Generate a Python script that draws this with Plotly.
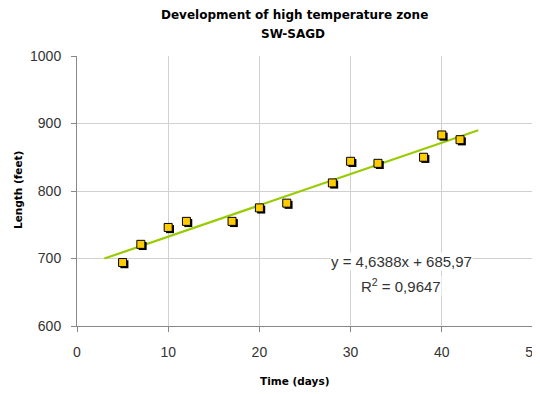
import plotly.graph_objects as go

days = [5, 7, 10, 12, 17, 20, 23, 28, 30, 33, 38, 40, 42]
length_ft = [694, 721, 746, 755, 755, 775, 782, 812, 844, 841, 850, 883, 876]
slope = 4.6388
intercept = 685.97
trend_x = [3, 44]
trend_y = [slope * x + intercept for x in trend_x]

# page body has an 8px margin; figure fills the rest of the 540x394 window
OFF = 8
W, H = 540 - OFF, 394 - OFF
L, R, T, B = 77 - OFF, 7, 56 - OFF, 68
PW, PH = W - L - R, H - T - B


def px(xp):
    return (xp - OFF - L) / PW


def py(yp):
    return (H - B - (yp - OFF)) / PH


fig = go.Figure()
fig.add_trace(go.Scatter(x=trend_x, y=trend_y, mode="lines",
                         line=dict(color="#99cc00", width=2.2), hoverinfo="skip"))
# shadow
fig.add_trace(go.Scatter(x=[d + 0.2 for d in days], y=[v - 2.5 for v in length_ft], mode="markers",
                         marker=dict(symbol="square", size=8, color="black"), hoverinfo="skip"))
fig.add_trace(go.Scatter(x=days, y=length_ft, mode="markers",
                         marker=dict(symbol="square", size=8, color="#ffcc00",
                                     line=dict(color="black", width=1))))

eq_font = dict(family="Liberation Sans", size=15, color="#333333")
fig.add_annotation(x=px(401), y=py(261), xref="paper", yref="paper", showarrow=False,
                   text="y = 4,6388x + 685,97", font=eq_font,
                   bgcolor="white", xanchor="center", yanchor="middle", borderpad=0)
fig.add_annotation(x=px(401), y=py(285), xref="paper", yref="paper", showarrow=False,
                   text="R<sup>2</sup> = 0,9647", font=eq_font,
                   bgcolor="white", xanchor="center", yanchor="middle", borderpad=0)

title_font = dict(family="DejaVu Sans", size=12, color="black")
fig.add_annotation(x=px(294), y=py(15), xref="paper", yref="paper", showarrow=False,
                   text="<b>Development of high temperature zone</b>", font=title_font,
                   xanchor="center", yanchor="middle")
fig.add_annotation(x=px(293), y=py(34), xref="paper", yref="paper", showarrow=False,
                   text="<b>SW-SAGD</b>", font=title_font,
                   xanchor="center", yanchor="middle")
axis_title_font = dict(family="DejaVu Sans", size=10.5, color="black")
fig.add_annotation(x=px(294), y=py(381), xref="paper", yref="paper", showarrow=False,
                   text="<b>Time (days)</b>", font=axis_title_font,
                   xanchor="center", yanchor="middle")
fig.add_annotation(x=px(18), y=py(190), xref="paper", yref="paper", showarrow=False,
                   text="<b>Length (feet)</b>", font=axis_title_font, textangle=-90,
                   xanchor="center", yanchor="middle")

tick_font = dict(family="Liberation Sans", size=14, color="#333333")
fig.update_layout(
    width=W, height=H,
    margin=dict(l=L, r=R, t=T, b=B),
    paper_bgcolor="white", plot_bgcolor="white",
    showlegend=False,
    font=dict(family="Liberation Sans", size=14, color="#333333"),
)
fig.update_xaxes(range=[0, 50], dtick=10, showgrid=True, gridcolor="#d0d0d0", gridwidth=1,
                 showline=True, linecolor="#888888", ticks="outside", ticklen=5, tickcolor="#888888",
                 zeroline=False, automargin=False, ticklabelstandoff=8,
                 ticklabeloverflow="allow", tickfont=tick_font)
fig.update_yaxes(range=[600, 1000], dtick=100, showgrid=True, gridcolor="#d0d0d0", gridwidth=1,
                 showline=True, linecolor="#888888", ticks="outside", ticklen=5, tickcolor="#888888",
                 zeroline=False, automargin=False, ticklabelstandoff=7,
                 ticklabeloverflow="allow", tickfont=tick_font)

fig.write_html("out.html")
